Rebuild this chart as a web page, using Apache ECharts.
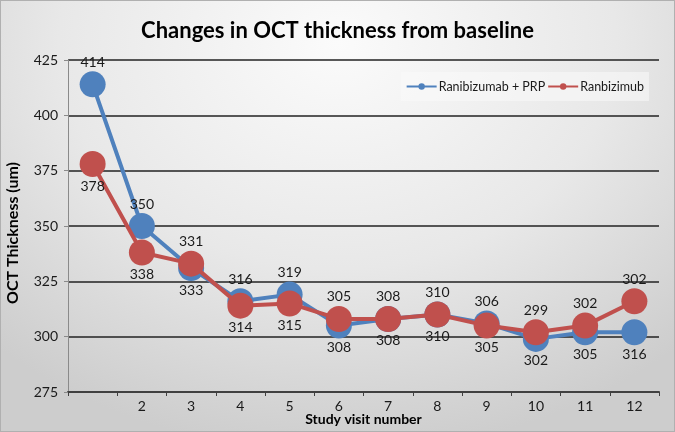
<!DOCTYPE html>
<html>
<head>
<meta charset="utf-8">
<script src="https://cdn.jsdelivr.net/npm/echarts@6/dist/echarts.min.js"></script>
<style>
html,body{margin:0;padding:0;}
#wrap{position:relative;width:675px;height:432px;}
#c{width:675px;height:432px;
background:radial-gradient(ellipse 75% 95% at 50% 10%, #fbfbfb 0%, #e8e8e8 55%, #cdcdcd 100%);}
#frame{position:absolute;left:0;top:0;width:675px;height:432px;box-sizing:border-box;border:1px solid #b0b0b0;pointer-events:none;}
</style>
</head>
<body>
<div id="wrap"><div id="c"></div><div id="frame"></div></div>
<script>
var categories = ['1','2','3','4','5','6','7','8','9','10','11','12'];
var xTickLabels = ['','2','3','4','5','6','7','8','9','10','11','12'];
var yTicks = [275, 300, 325, 350, 375, 400, 425];
var seriesNames = ['Ranibizumab + PRP', 'Ranbizimub'];
var prpValues = [414, 350, 331, 316, 319, 305, 308, 310, 306, 299, 302, 302];
var ranValues = [378, 338, 333, 314, 315, 308, 308, 310, 305, 302, 305, 316];
var topLabels = ['414','350','331','316','319','305','308','310','306','299','302','302'];
var bottomLabels = ['378','338','333','314','315','308','308','310','305','302','305','316'];

var FONT = 'Lato';
var labelStyle = {show: true, fontFamily: FONT, fontSize: 14, color: '#1a1a1a', distance: 2};

function buildData(own, other, ownIsBlue) {
  return own.map(function (v, i) {
    var upper = ownIsBlue ? (v >= other[i]) : (v > other[i]);
    return {
      value: v,
      label: Object.assign({}, labelStyle, {
        position: upper ? 'top' : 'bottom',
        formatter: upper ? topLabels[i] : bottomLabels[i]
      })
    };
  });
}

var chart = echarts.init(document.getElementById('c'), null, {renderer: 'canvas'});
chart.setOption({
  backgroundColor: 'transparent',
  animation: false,
  title: {
    text: 'Changes in OCT thickness from baseline',
    left: 'center', top: 15,
    textStyle: {fontFamily: FONT, fontWeight: 'bold', fontSize: 22, color: '#000'}
  },
  graphic: [{
    type: 'text',
    x: 13, y: 233,
    rotation: Math.PI / 2,
    style: {
      text: 'OCT Thickness (um)',
      fontFamily: FONT, fontWeight: 'bold', fontSize: 16, fill: '#000',
      align: 'center', verticalAlign: 'middle'
    }
  }],
  legend: {
    data: seriesNames,
    right: 26, top: 72,
    backgroundColor: 'rgba(250,250,250,0.55)',
    padding: [8, 5, 8, 5],
    itemGap: 2,
    itemWidth: 30, itemHeight: 8,
    textStyle: {fontFamily: FONT, fontSize: 12.5, color: '#1a1a1a', padding: [0,0,0,-3]}
  },
  grid: {left: 68, right: 16, top: 60, bottom: 40, outerBoundsMode: 'none', containLabel: false},
  xAxis: {
    type: 'category',
    data: categories,
    boundaryGap: true,
    name: 'Study visit number',
    nameLocation: 'middle',
    nameGap: 20,
    nameMoveOverlap: false,
    nameTextStyle: {fontFamily: FONT, fontWeight: 'bold', fontSize: 14, color: '#000'},
    axisLine: {lineStyle: {color: '#404040', width: 2}},
    axisTick: {show: true, interval: 0, length: 4, lineStyle: {color: '#404040'}},
    axisLabel: {
      interval: 0, fontFamily: FONT, fontSize: 14, color: '#1a1a1a', margin: 7,
      formatter: function (v, i) { return xTickLabels[i]; }
    }
  },
  yAxis: {
    type: 'value',
    min: yTicks[0], max: yTicks[yTicks.length - 1], interval: 25,
    axisLine: {show: true, lineStyle: {color: '#8a8a8a', width: 1}},
    axisTick: {show: true, length: 4, lineStyle: {color: '#8a8a8a'}},
    axisLabel: {fontFamily: FONT, fontSize: 14, color: '#1a1a1a', margin: 10},
    splitLine: {show: true, lineStyle: {color: '#222', width: 1.5}}
  },
  series: [
    {
      name: seriesNames[0], type: 'line',
      data: buildData(prpValues, ranValues, true),
      symbol: 'circle', symbolSize: 26,
      lineStyle: {width: 4, color: '#4F81BD'},
      itemStyle: {color: '#4F81BD'},
      z: 2
    },
    {
      name: seriesNames[1], type: 'line',
      data: buildData(ranValues, prpValues, false),
      symbol: 'circle', symbolSize: 26,
      lineStyle: {width: 4, color: '#C0504D'},
      itemStyle: {color: '#C0504D'},
      z: 3
    }
  ]
});
</script>
</body>
</html>
